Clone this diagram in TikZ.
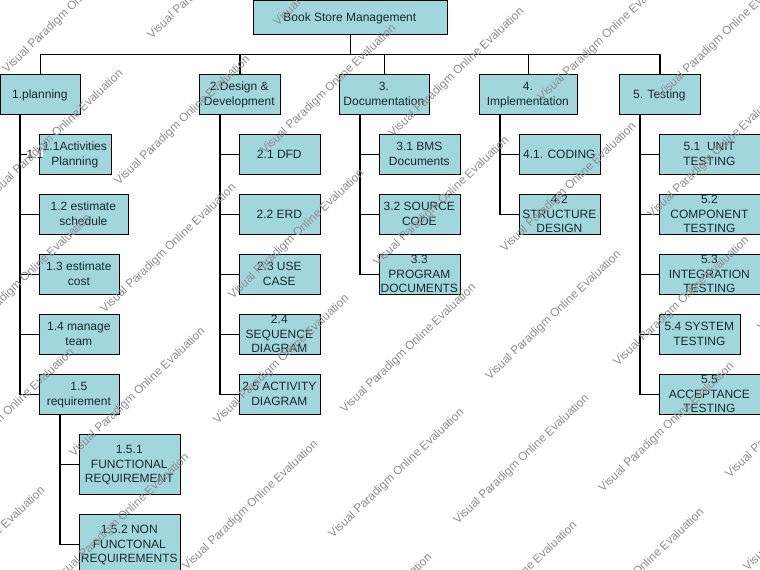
\documentclass[tikz,border=0pt]{standalone}
\usepackage{fontspec}
\setmainfont{Liberation Sans}
\definecolor{boxfill}{HTML}{A1D6DC}
\definecolor{wmark}{HTML}{8E8E8E}
\definecolor{boxtext}{HTML}{1A2A2C}
\newcommand{\wmtext}{Visual Paradigm Online Evaluation}
\newcommand{\lnstrut}{\rule[-2.2pt]{0pt}{10.9pt}}
\tikzset{
  x=0.75pt,y=-0.75pt,
  wbs/.style={draw=black,line width=0.75pt,fill=boxfill,inner sep=0pt,outer sep=0pt,anchor=center},
  wbstext/.style={inner sep=0pt,outer sep=0pt,align=center,text=boxtext,font=\fontsize{9}{10.9}\selectfont,xshift=-0.5pt,yshift=0.5pt},
  link/.style={draw=black,line width=0.85pt},
  edgetag/.style={fill=white,text=boxtext,inner sep=0pt,font=\fontsize{9}{10.9}\selectfont},
  wm/.style={text=wmark,font=\fontsize{8.85}{11}\selectfont,rotate=43.5,inner sep=0pt},
}
% box: name, x0, y0, x1, y1, text
\newcommand{\wbsbox}[6]{\node[wbs,minimum width=(#4-#2)*0.75pt,minimum height=(#5-#3)*0.75pt,label={[wbstext]center:{\lnstrut#6\lnstrut}}] (#1) at ({(#2+#4)/2+0.5},{(#3+#5)/2+0.5}) {};}
\newcommand{\wmat}[3]{\node[wm] (#1) at ({#2+1.5},{#3+1.5}) {\wmtext};}
\begin{document}
\begin{tikzpicture}
\useasboundingbox (0,0) rectangle (760,570);
\clip (0,0) rectangle (760,570);
\fill[white] (0,0) rectangle (760,570);
% connectors' junction points
\coordinate (bus) at (350.5,54.5);
\coordinate (sa) at (20,114.5);
\coordinate (sb) at (220,114.5);
\coordinate (sc) at (360,114.5);
\coordinate (sd) at (500,114.5);
\coordinate (se) at (640,114.5);
\coordinate (sf) at (60,414.5);
% boxes
\wbsbox{root}{253}{0}{447}{34}{Book Store Management}
\wbsbox{a}{0}{74}{80}{114}{1.planning}
\wbsbox{b}{199}{74}{280}{114}{2.Design \&\\Development}
\wbsbox{c}{339}{74}{429}{114}{3.\\Documentation}
\wbsbox{d}{479}{74}{577}{114}{4.\\Implementation}
\wbsbox{e}{619}{74}{700}{114}{5. Testing}
\wbsbox{a1}{39}{134}{111}{174}{1.1Activities\\Planning}
\wbsbox{a2}{39}{194}{128}{234}{1.2 estimate\\schedule}
\wbsbox{a3}{39}{254}{119}{294}{1.3 estimate\\cost}
\wbsbox{a4}{39}{314}{119}{354}{1.4 manage\\team}
\wbsbox{a5}{39}{374}{119}{414}{1.5\\requirement}
\wbsbox{f1}{79}{434}{180}{494}{1.5.1\\FUNCTIONAL\\REQUIREMENT}
\wbsbox{f2}{79}{514}{180}{574}{1.5.2 NON\\FUNCTONAL\\REQUIREMENTS}
\wbsbox{b1}{239}{134}{320}{174}{2.1 DFD}
\wbsbox{b2}{239}{194}{320}{234}{2.2 ERD}
\wbsbox{b3}{239}{254}{320}{294}{2.3 USE\\CASE}
\wbsbox{b4}{239}{314}{320}{354}{2.4\\SEQUENCE\\DIAGRAM}
\wbsbox{b5}{239}{374}{320}{414}{2.5 ACTIVITY\\DIAGRAM}
\wbsbox{c1}{379}{134}{460}{174}{3.1 BMS\\Documents}
\wbsbox{c2}{379}{194}{460}{234}{3.2 SOURCE\\CODE}
\wbsbox{c3}{379}{254}{460}{294}{3.3\\PROGRAM\\DOCUMENTS}
\wbsbox{d1}{519}{134}{600}{174}{4.1. CODING}
\wbsbox{d2}{519}{194}{600}{234}{4.2\\STRUCTURE\\DESIGN}
\wbsbox{e1}{659}{134}{760}{174}{5.1\ \ UNIT\\TESTING}
\wbsbox{e2}{659}{194}{760}{234}{5.2\\COMPONENT\\TESTING}
\wbsbox{e3}{659}{254}{760}{294}{5.3\\INTEGRATION\\TESTING}
\wbsbox{e4}{659}{314}{740}{354}{5.4 SYSTEM\\TESTING}
\wbsbox{e5}{659}{374}{760}{414}{5.5\\ACCEPTANCE\\TESTING}
% connectors
\foreach \t in {a,b,c,d,e}{\draw[link] (root.south) -- (bus) -| (\t.north);}
\foreach \t in {a1,a2,a3,a4,a5}{\draw[link] (sa) |- (\t.west);}
\foreach \t in {b1,b2,b3,b4,b5}{\draw[link] (sb) |- (\t.west);}
\foreach \t in {c1,c2,c3}{\draw[link] (sc) |- (\t.west);}
\foreach \t in {d1,d2}{\draw[link] (sd) |- (\t.west);}
\foreach \t in {e1,e2,e3,e4,e5}{\draw[link] (se) |- (\t.west);}
\foreach \t in {f1,f2}{\draw[link] (sf) |- (\t.west);}
\node[edgetag] (tag11) at (35,154) {1.1};
% watermarks
\wmat{w1}{69}{7}\wmat{w2}{214}{-27}\wmat{w3}{340}{-40}\wmat{w4}{455}{71}
\wmat{w5}{567}{186}\wmat{w6}{604}{35}\wmat{w7}{724}{32}\wmat{w8}{714}{152}
\wmat{w9}{181}{119}\wmat{w10}{327}{88}\wmat{w11}{54}{133}\wmat{w12}{167}{247}
\wmat{w13}{295}{233}\wmat{w14}{22}{278}\wmat{w15}{440}{200}\wmat{w16}{680}{300}
\wmat{w17}{552}{314}\wmat{w18}{280}{358}\wmat{w19}{136}{391}\wmat{w20}{249}{504}
\wmat{w21}{120}{517}\wmat{w22}{-24}{550}\wmat{w23}{407}{347}\wmat{w24}{395}{472}
\wmat{w25}{520}{458}\wmat{w26}{665}{426}\wmat{w27}{792}{412}\wmat{w28}{363}{617}
\wmat{w29}{508}{585}\wmat{w30}{635}{572}\wmat{w31}{810}{505}\wmat{w32}{824}{265}
\wmat{w33}{5}{412}\wmat{w34}{233}{633}
\end{tikzpicture}
\end{document}
